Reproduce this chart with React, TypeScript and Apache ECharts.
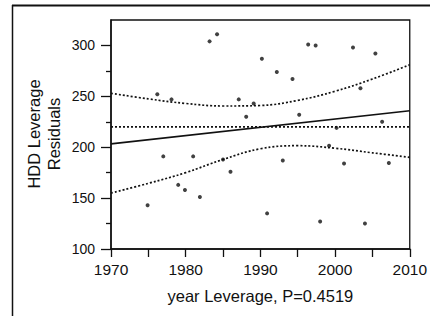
import React, { useEffect, useRef } from "react";
import * as echarts from "echarts";

// Residual points (year leverage, HDD leverage residual)
const pointYears = [
  1974.9, 1976.2, 1977.0, 1978.1, 1979.0, 1979.9, 1981.0, 1981.9, 1983.2, 1984.2,
  1985.0, 1986.0, 1987.1, 1988.1, 1989.1, 1990.2, 1990.9, 1992.2, 1993.0, 1994.3,
  1995.2, 1996.4, 1997.4, 1998.0, 1999.2, 2000.2, 2001.2, 2002.4, 2003.4, 2004.0,
  2005.4, 2006.3, 2007.2,
];
const pointResiduals = [
  143, 252, 191, 247, 163, 158, 191, 151, 304, 311,
  188, 176, 247, 230, 243, 287, 135, 274, 187, 267,
  232, 301, 300, 127, 201.5, 219, 184, 298, 258, 125,
  292, 225, 184.5,
];

// Fit line
const fitYears = [1970, 2010];
const fitValues = [203.3, 235.8];

// Mean line
const meanYears = [1970, 2010];
const meanValues = [220, 220];

// Confidence curves
const bandYears = [1970, 1975, 1980, 1985, 1990, 1995, 2000, 2005, 2010];
const upperBand = [253, 247.5, 243, 240.5, 241, 246, 255, 267, 281];
const lowerBand = [155, 164.5, 175, 188, 198.5, 201.5, 199, 194.5, 190];

// Axis ticks
const yMajorTicks = [100, 150, 200, 250, 300];
const yMinorTicks = [125, 175, 225, 275];
const xLabelYears = [1970, 1980, 1990, 2000, 2010];

const FONT = "'Liberation Sans', Arial, Helvetica, sans-serif";
const INK = "#111";

export default function App() {
  const ref = useRef<HTMLDivElement>(null);

  useEffect(() => {
    if (!ref.current) return;
    const chart = echarts.init(ref.current, undefined, { renderer: "svg" });
    const pairs = (xs: number[], ys: number[]) => xs.map((x, i) => [x, ys[i]]);
    const dotted = { color: INK, width: 1.7, type: [2, 2] as any };

    chart.setOption({
      animation: false,
      backgroundColor: "#fff",
      grid: {
        left: 111,
        right: 16,
        top: 20,
        bottom: 67,
        show: true,
        borderColor: INK,
        borderWidth: 1.3,
        containLabel: false,
      },
      xAxis: {
        type: "value",
        min: 1970,
        max: 2010,
        interval: 5,
        name: "year Leverage, P=0.4519",
        nameLocation: "middle",
        nameGap: 38,
        nameTextStyle: { fontFamily: FONT, fontSize: 16.5, color: INK },
        axisLine: { show: true, lineStyle: { color: INK, width: 1.5 } },
        axisTick: { show: true, length: 8, lineStyle: { color: INK, width: 1.3 } },
        axisLabel: {
          margin: 12,
          fontFamily: FONT,
          fontSize: 15.5,
          color: INK,
          formatter: (v: number) => (xLabelYears.includes(v) ? String(v) : ""),
        },
        splitLine: { show: false },
      },
      yAxis: [
        {
          type: "value",
          min: 100,
          max: 325,
          position: "left",
          axisLine: { show: true, lineStyle: { color: INK, width: 1.5 } },
          axisTick: {
            show: true,
            length: 10,
            customValues: yMajorTicks,
            lineStyle: { color: INK, width: 1.3 },
          },
          axisLabel: {
            margin: 16,
            fontFamily: FONT,
            fontSize: 14,
            color: INK,
            customValues: yMajorTicks,
          },
          splitLine: { show: false },
        },
        {
          type: "value",
          min: 100,
          max: 325,
          position: "left",
          axisLine: { show: false },
          axisTick: {
            show: true,
            length: 5,
            customValues: yMinorTicks,
            lineStyle: { color: INK, width: 1.3 },
          },
          axisLabel: { show: false },
          splitLine: { show: false },
        },
      ],
      graphic: [
        {
          type: "line",
          shape: { x1: 12, y1: 5.5, x2: 430, y2: 5.5 },
          style: { stroke: INK, lineWidth: 2 },
        },
        {
          type: "line",
          shape: { x1: 12.5, y1: 5, x2: 12.5, y2: 316 },
          style: { stroke: INK, lineWidth: 1.5 },
        },
        {
          type: "text",
          x: 44,
          y: 134,
          rotation: Math.PI / 2,
          style: {
            text: "HDD Leverage\nResiduals",
            fontFamily: FONT,
            fontSize: 16.5,
            lineHeight: 20,
            fill: INK,
            textAlign: "center",
            textVerticalAlign: "middle",
          },
        },
      ],
      series: [
        {
          type: "line",
          data: pairs(meanYears, meanValues),
          showSymbol: false,
          lineStyle: dotted,
          silent: true,
        },
        {
          type: "line",
          data: pairs(bandYears, upperBand),
          showSymbol: false,
          smooth: 0.4,
          lineStyle: dotted,
          silent: true,
        },
        {
          type: "line",
          data: pairs(bandYears, lowerBand),
          showSymbol: false,
          smooth: 0.4,
          lineStyle: dotted,
          silent: true,
        },
        {
          type: "line",
          data: pairs(fitYears, fitValues),
          showSymbol: false,
          lineStyle: { color: INK, width: 1.6, type: "solid" },
          silent: true,
        },
        {
          type: "scatter",
          data: pairs(pointYears, pointResiduals),
          symbol: "circle",
          symbolSize: 4,
          itemStyle: { color: INK },
          silent: true,
        },
      ],
    });
    return () => chart.dispose();
  }, []);

  return <div ref={ref} style={{ width: 430, height: 316, position: "absolute", left: 0, top: 0 }} />;
}
